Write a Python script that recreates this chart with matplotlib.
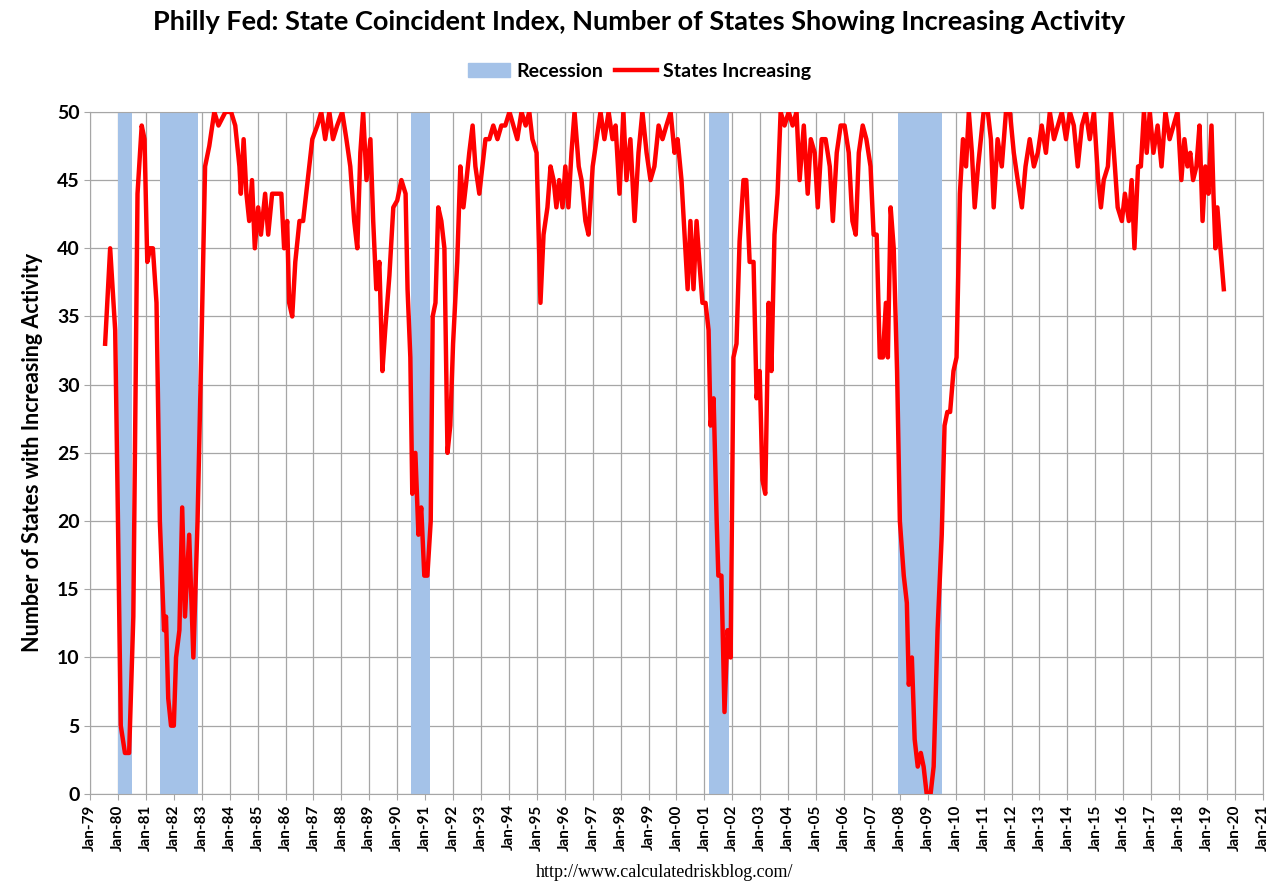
import numpy as np
import matplotlib.pyplot as plt
from matplotlib.patches import Patch
from matplotlib.lines import Line2D

plt.rcParams['font.family'] = ['Lato', 'DejaVu Sans']

# turning points (decimal year, states increasing)
years = [1979.54, 1979.72, 1979.9, 1980.0, 1980.1, 1980.25, 1980.4, 1980.55, 1980.7, 1980.85,
         1980.95, 1981.05, 1981.15, 1981.25, 1981.38, 1981.5, 1981.65, 1981.72, 1981.8, 1981.9,
         1982.0, 1982.08, 1982.2, 1982.3, 1982.4, 1982.55, 1982.7, 1982.85, 1983.0, 1983.12,
         1983.27, 1983.45, 1983.6, 1983.85, 1984.05, 1984.2, 1984.35, 1984.4, 1984.5, 1984.6,
         1984.7, 1984.8, 1984.9, 1985.02, 1985.12, 1985.27, 1985.38, 1985.52, 1985.7, 1985.85,
         1985.95, 1986.06, 1986.13, 1986.24, 1986.35, 1986.5, 1986.63, 1986.74, 1986.85, 1986.96,
         1987.14, 1987.28, 1987.42, 1987.57, 1987.7, 1987.85, 1988.03, 1988.18, 1988.32, 1988.46,
         1988.57, 1988.68, 1988.78, 1988.9, 1989.04, 1989.14, 1989.25, 1989.36, 1989.47, 1989.57,
         1989.72, 1989.86, 1990.0, 1990.15, 1990.3, 1990.37, 1990.47, 1990.54, 1990.65, 1990.76,
         1990.86, 1990.97, 1991.08, 1991.2, 1991.27, 1991.37, 1991.47, 1991.58, 1991.69, 1991.8,
         1991.9, 1992.0, 1992.15, 1992.26, 1992.37, 1992.48, 1992.58, 1992.7, 1992.8, 1992.94,
         1993.05, 1993.16, 1993.3, 1993.44, 1993.59, 1993.73, 1993.87, 1994.02, 1994.16, 1994.3,
         1994.45, 1994.6, 1994.73, 1994.84, 1994.99, 1995.13, 1995.24, 1995.38, 1995.49, 1995.6,
         1995.7, 1995.8, 1995.92, 1996.02, 1996.13, 1996.24, 1996.35, 1996.5, 1996.6, 1996.74,
         1996.85, 1997.0, 1997.14, 1997.28, 1997.42, 1997.57, 1997.71, 1997.82, 1997.96, 1998.1,
         1998.21, 1998.35, 1998.5, 1998.64, 1998.78, 1998.93, 1999.07, 1999.21, 1999.36, 1999.5,
         1999.64, 1999.79, 1999.93, 2000.04, 2000.18, 2000.29, 2000.4, 2000.5, 2000.61, 2000.72,
         2000.82, 2000.93, 2001.04, 2001.15, 2001.22, 2001.33, 2001.44, 2001.5, 2001.61, 2001.72,
         2001.83, 2001.94, 2002.04, 2002.15, 2002.26, 2002.4, 2002.5, 2002.62, 2002.76, 2002.87,
         2002.98, 2003.08, 2003.18, 2003.3, 2003.4, 2003.51, 2003.62, 2003.73, 2003.87, 2004.02,
         2004.16, 2004.3, 2004.41, 2004.56, 2004.7, 2004.81, 2004.95, 2005.06, 2005.2, 2005.34,
         2005.49, 2005.6, 2005.74, 2005.88, 2006.02, 2006.17, 2006.3, 2006.42, 2006.53, 2006.67,
         2006.8, 2006.95, 2007.06, 2007.17, 2007.28, 2007.39, 2007.5, 2007.57, 2007.67, 2007.78,
         2007.9, 2008.0, 2008.14, 2008.25, 2008.32, 2008.43, 2008.53, 2008.64, 2008.75, 2008.85,
         2008.96, 2009.1, 2009.21, 2009.35, 2009.5, 2009.6, 2009.7, 2009.8, 2009.92, 2010.03,
         2010.15, 2010.26, 2010.37, 2010.47, 2010.58, 2010.68, 2010.8, 2010.9, 2011.0, 2011.15,
         2011.26, 2011.36, 2011.5, 2011.65, 2011.8, 2011.94, 2012.08, 2012.22, 2012.37, 2012.5,
         2012.65, 2012.8, 2012.94, 2013.08, 2013.23, 2013.37, 2013.52, 2013.66, 2013.8, 2013.95,
         2014.09, 2014.23, 2014.37, 2014.52, 2014.66, 2014.8, 2014.95, 2015.1, 2015.2, 2015.3,
         2015.45, 2015.56, 2015.7, 2015.8, 2015.95, 2016.06, 2016.2, 2016.3, 2016.4, 2016.53,
         2016.63, 2016.74, 2016.84, 2016.95, 2017.08, 2017.23, 2017.37, 2017.51, 2017.66, 2017.8,
         2017.94, 2018.08, 2018.19, 2018.3, 2018.4, 2018.5, 2018.62, 2018.73, 2018.84, 2018.94,
         2019.05, 2019.16, 2019.23, 2019.3, 2019.37, 2019.48, 2019.6]
states = [33, 40, 34, 20, 5, 3, 3, 13, 44, 49,
          48, 39, 40, 40, 36, 20, 12, 13, 7, 5,
          5, 10, 12, 21, 13, 19, 10, 20, 34, 46,
          47.5, 50, 49, 50, 50, 49, 46, 44, 48, 44,
          42, 45, 40, 43, 41, 44, 41, 44, 44, 44,
          40, 42, 36, 35, 39, 42, 42, 44, 46, 48,
          49, 50, 48, 50, 48, 49, 50, 48, 46, 42,
          40, 47, 50, 45, 48, 42, 37, 39, 31, 34,
          38, 43, 43.5, 45, 44, 37, 32, 22, 25, 19,
          21, 16, 16, 20, 35, 36, 43, 42, 40, 25,
          27, 33, 39, 46, 43, 45, 47, 49, 46, 44,
          46, 48, 48, 49, 48, 49, 49, 50, 49, 48,
          50, 49, 50, 48, 47, 36, 41, 43, 46, 45,
          43, 45, 43, 46, 43, 47, 50, 46, 45, 42,
          41, 46, 48, 50, 48, 50, 48, 49, 44, 50,
          45, 48, 42, 47, 50, 47, 45, 46, 49, 48,
          49, 50, 47, 48, 45, 41, 37, 42, 37, 42,
          39, 36, 36, 34, 27, 29, 20, 16, 16, 6,
          12, 10, 32, 33, 40.5, 45, 45, 39, 39, 29,
          31, 23, 22, 36, 31, 41, 44, 50, 49, 50,
          49, 50, 45, 49, 44, 48, 47, 43, 48, 48,
          46, 42, 47, 49, 49, 47, 42, 41, 47, 49,
          48, 46, 41, 41, 32, 32, 36, 32, 43, 40,
          31, 20, 16, 14, 8, 10, 4, 2, 3, 2,
          0, 0, 2, 12, 19, 27, 28, 28, 31, 32,
          44, 48, 46, 50, 47, 43, 46, 48, 50, 50,
          48, 43, 48, 46, 50, 50, 47, 45, 43, 46,
          48, 46, 47, 49, 47, 50, 48, 49, 50, 48,
          50, 49, 46, 49, 50, 48, 50, 45, 43, 45,
          46, 50, 46, 43, 42, 44, 42, 45, 40, 46,
          46, 50, 47, 50, 47, 49, 46, 50, 48, 49,
          50, 45, 48, 46, 47, 45, 46, 49, 42, 46,
          44, 49, 44, 40, 43, 40, 37]

rec_start = [1980.0, 1981.5, 1990.5, 2001.17, 2007.92]
rec_end = [1980.5, 1982.88, 1991.17, 2001.88, 2009.5]

fig = plt.figure(figsize=(12.79, 8.88), dpi=100)
ax = fig.add_axes([0.0704, 0.106, 0.917, 0.768])

for s, e in zip(rec_start, rec_end):
    ax.axvspan(s, e, color='#a4c2e8', zorder=1, lw=0)
ax.plot(years, states, color='#ff0000', lw=3.2, zorder=3)

ax.set_xlim(1979, 2021)
ax.set_ylim(0, 50)
ax.set_yticks(range(0, 51, 5))
xt = list(range(1979, 2022))
ax.set_xticks(xt)
ax.set_xticklabels([f"Jan-{y % 100:02d}" for y in xt], rotation=90, fontsize=11, fontweight='bold')
for lab in ax.get_yticklabels():
    lab.set_fontweight('bold')
    lab.set_fontsize(14)
ax.grid(True, color='#a6a6a6', lw=0.9, zorder=0)
ax.set_axisbelow(True)
for sp in ax.spines.values():
    sp.set_color('#a6a6a6')
ax.tick_params(length=4, color='#a6a6a6')
ax.set_ylabel('Number of States with Increasing Activity', fontsize=15.5, fontweight='bold', labelpad=10)

fig.text(0.5, 0.975, 'Philly Fed: State Coincident Index, Number of States Showing Increasing Activity',
         ha='center', va='center', fontsize=19.5, fontweight='bold')
handles = [Patch(color='#a4c2e8', label='Recession'),
           Line2D([], [], color='#ff0000', lw=3.2, label='States Increasing')]
fig.legend(handles=handles, loc='center', bbox_to_anchor=(0.5, 0.92), ncol=2, frameon=False,
           prop={'weight': 'bold', 'size': 14}, handlelength=2.2, columnspacing=0.6, handletextpad=0.3)
fig.text(0.52, 0.008, 'http://www.calculatedriskblog.com/', ha='center', va='bottom', fontsize=13,
         family=['Liberation Serif'])

fig.savefig('out.png', dpi=100)
